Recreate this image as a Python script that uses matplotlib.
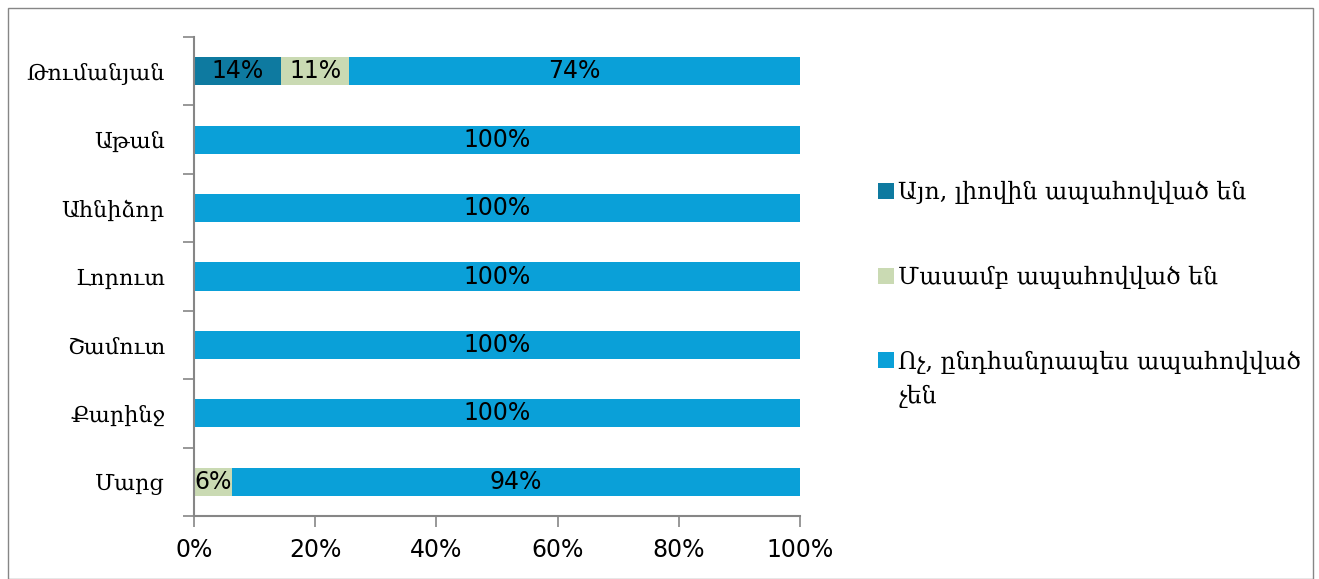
import matplotlib
matplotlib.use('Agg')
import matplotlib.pyplot as plt
from matplotlib.patches import Rectangle, Patch
import numpy as np

# data (top to bottom as shown)
villages = ['Թումանյան', 'Աթան', 'Ահնիձոր', 'Լորուտ', 'Շամուտ', 'Քարինջ', 'Մարց']
yes_full = [14.4, 0, 0, 0, 0, 0, 0]
partly = [11.2, 0, 0, 0, 0, 0, 6.3]
not_at_all = [74.4, 100, 100, 100, 100, 100, 93.7]
series_names = ['Այո, լիովին ապահովված են',
                'Մասամբ ապահովված են',
                'Ոչ, ընդհանրապես ապահովված']
series_name_cont = 'չեն'  # wrapped second line of the last legend entry
colors = ['#0E7AA0', '#CADAB3', '#0AA0D8']
ticks = [0, 20, 40, 60, 80, 100]

arm_font = ['DejaVu Serif', 'DejaVu Sans']
num_font = ['DejaVu Sans']
gray = '#868686'

fig = plt.figure(figsize=(13.19, 5.79), dpi=100)
ax = fig.add_axes([194 / 1319, 63 / 579, 606 / 1319, 479 / 579])

# outer frame
fig.patches.append(Rectangle((8 / 1319, 0), 1305 / 1319, 571 / 579, transform=fig.transFigure,
                             fill=False, edgecolor=gray, linewidth=1))

y = np.arange(len(villages))
left = np.zeros(len(villages))
for vals, c in zip([yes_full, partly, not_at_all], colors):
    vals = np.array(vals)
    bars = ax.barh(y, vals, left=left, height=0.41, color=c)
    for b, v in zip(bars, vals):
        if v > 0:
            ax.text(b.get_x() + b.get_width() / 2, b.get_y() + b.get_height() / 2,
                    '{:.0f}%'.format(v), ha='center', va='center',
                    fontsize=17, family=num_font, color='black')
    left += vals

ax.set_xlim(0, 100)
ax.set_ylim(len(villages) - 0.5, -0.5)
ax.set_xticks(ticks)
ax.set_xticklabels(['{}%'.format(t) for t in ticks], fontsize=17, family=num_font)
ax.set_yticks(y)
ax.set_yticklabels(villages, fontsize=16, family=arm_font)
ax.set_yticks(np.arange(-0.5, len(villages), 1), minor=True)
ax.tick_params(axis='y', which='major', length=0, pad=21)
ax.tick_params(axis='y', which='minor', length=8, color=gray, width=1.2)
ax.tick_params(axis='x', length=8, color=gray, width=1.2, pad=8)

for s in ['top', 'right']:
    ax.spines[s].set_visible(False)
for s in ['left', 'bottom']:
    ax.spines[s].set_color(gray)
    ax.spines[s].set_linewidth(1.5)

handles = [Patch(facecolor=c) for c in colors]
leg = fig.legend(handles, series_names, loc='upper left', bbox_to_anchor=(857 / 1319, 1 - 160 / 579),
                 frameon=False, prop={'family': arm_font, 'size': 17},
                 handlelength=0.65, handleheight=0.65, handletextpad=0.2, labelspacing=2.6)

# second line of the wrapped legend label, aligned with the legend text
fig.canvas.draw()
last = leg.get_texts()[-1]
bb = last.get_window_extent().transformed(fig.transFigure.inverted())
fig.text(bb.x0, bb.y0 - 34 / 579, series_name_cont, ha='left', va='bottom',
         family=arm_font, fontsize=17)

fig.savefig('out.png', dpi=100)
